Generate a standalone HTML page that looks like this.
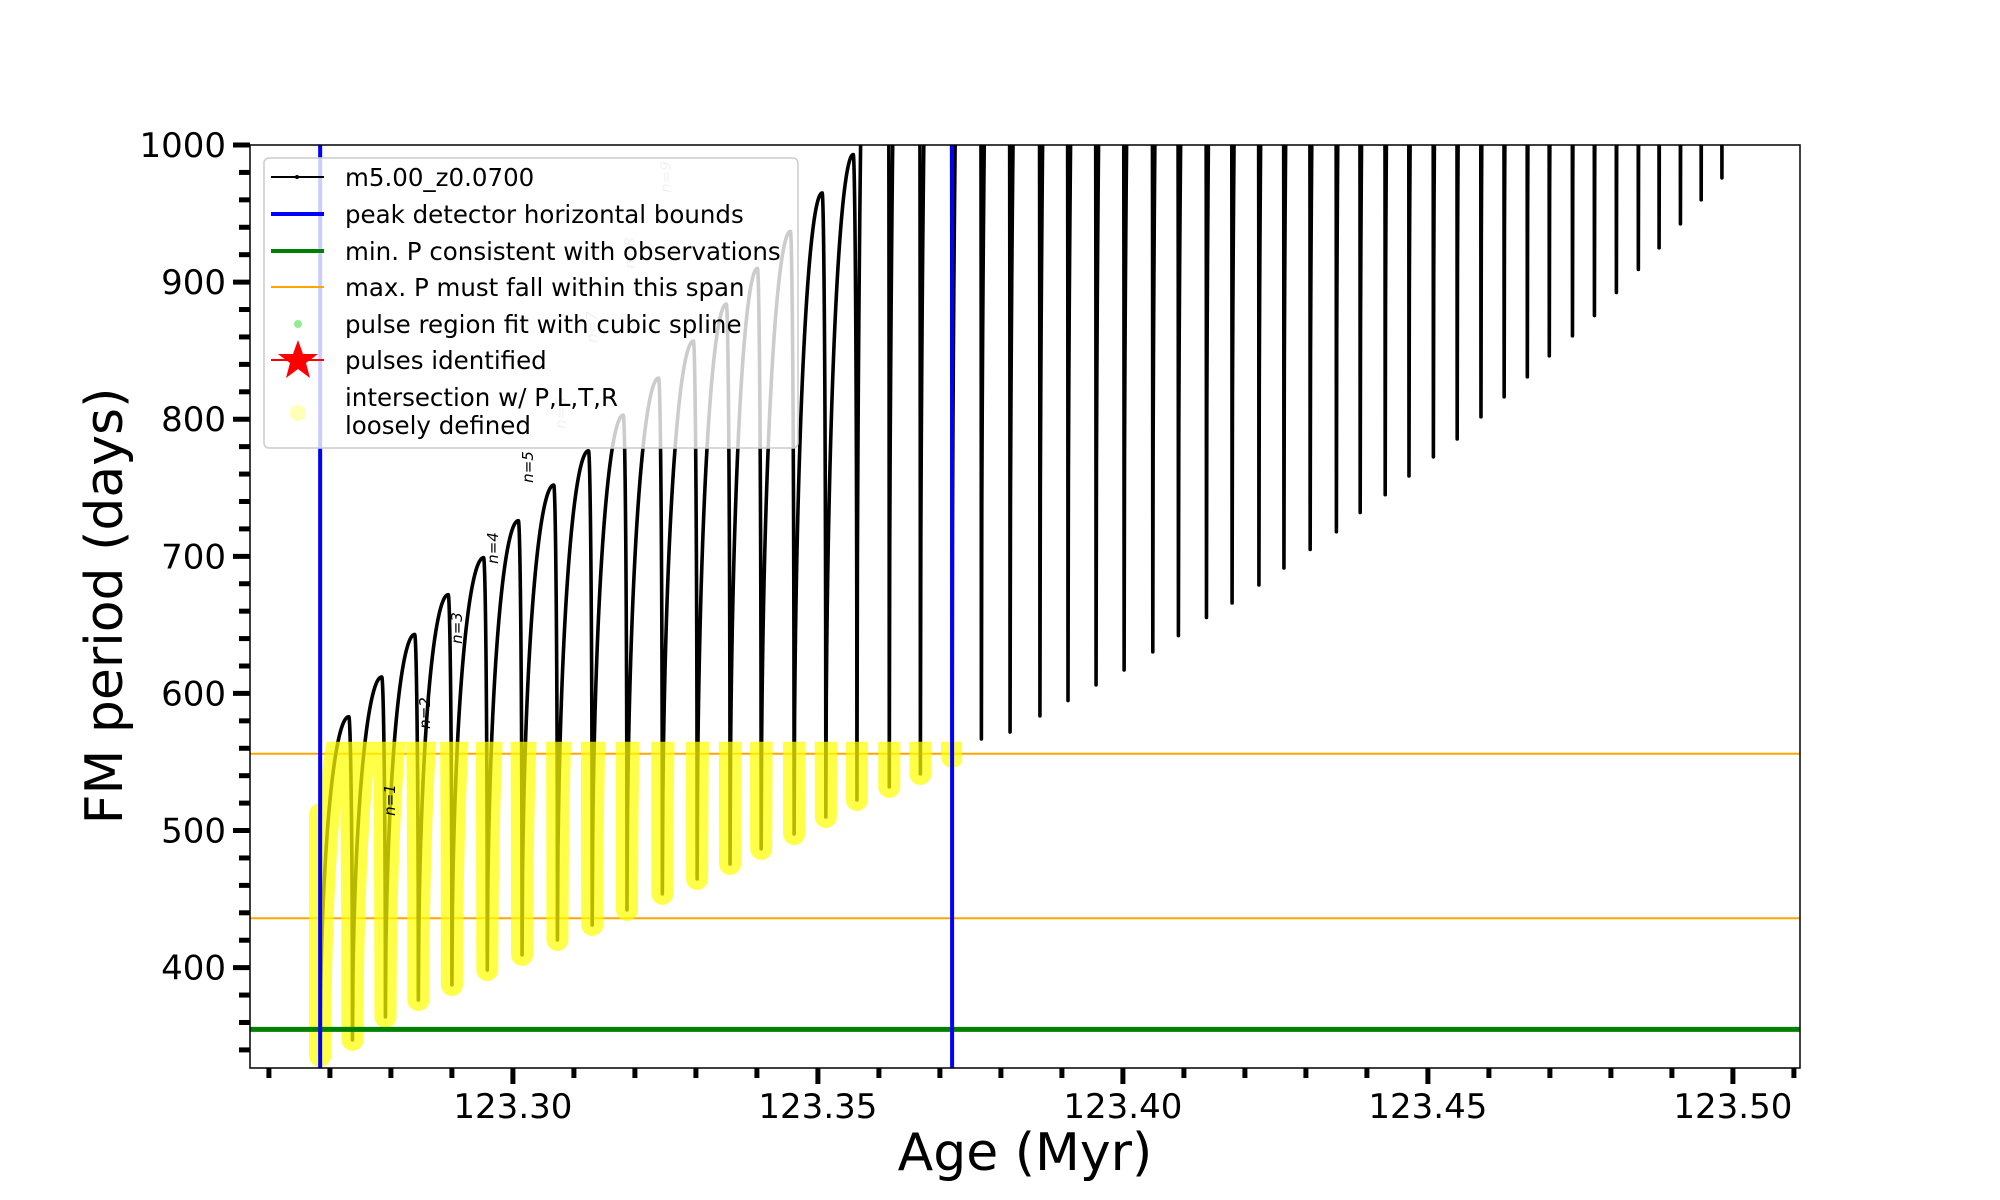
<!DOCTYPE html>
<html><head><meta charset="utf-8"><style>
html,body{margin:0;padding:0;background:#fff;}
svg{display:block;font-family:"DejaVu Sans","Liberation Sans",sans-serif;}
</style></head><body>
<svg id="chart" width="2000" height="1200" viewBox="0 0 2000 1200" xmlns="http://www.w3.org/2000/svg">
<defs><clipPath id="plotClip"><rect x="250" y="145" width="1550" height="923"/></clipPath>
<clipPath id="yelClip"><rect x="300" y="742" width="668" height="330"/></clipPath></defs>
<rect x="0" y="0" width="2000" height="1200" fill="#fff"/>
<g id="plot" clip-path="url(#plotClip)"></g>
<g id="axes"></g>
<g id="legend">
<rect x="264" y="158" width="534" height="290" rx="5" fill="#fff" fill-opacity="0.8" stroke="#ccc" stroke-width="1.5"/>
<g font-size="24.5" fill="#000">
<g><line x1="271" y1="177" x2="324" y2="177" stroke="#000" stroke-width="2"/><circle cx="297" cy="177" r="2" fill="#000"/><text x="345" y="186">m5.00_z0.0700</text></g>
<g><line x1="271" y1="214" x2="324" y2="214" stroke="#0000ff" stroke-width="4"/><text x="345" y="223">peak detector horizontal bounds</text></g>
<g><line x1="271" y1="251" x2="324" y2="251" stroke="#008000" stroke-width="4"/><text x="345" y="260">min. P consistent with observations</text></g>
<g><line x1="271" y1="287" x2="324" y2="287" stroke="#ffa500" stroke-width="2"/><text x="345" y="296">max. P must fall within this span</text></g>
<g><circle cx="298" cy="324" r="4" fill="#90ee90"/><text x="345" y="333">pulse region fit with cubic spline</text></g>
<g><line x1="271" y1="360" x2="324" y2="360" stroke="#ff0000" stroke-width="2"/><polygon points="298,340 303,354 318,354 306,363 310,378 298,369 286,378 290,363 278,354 293,354" fill="#ff0000"/><text x="345" y="369">pulses identified</text></g>
<g><circle cx="298" cy="413" r="8" fill="#ffff99" fill-opacity="0.7"/><text x="345" y="406">intersection w/ P,L,T,R</text><text x="345" y="434">loosely defined</text></g>
</g></g>
</svg>
<script>
const pulseAge=[123.2684,123.2737,123.2791,123.2845,123.2900,123.2958,123.3015,123.3073,123.3130,123.3187,123.3245,123.3302,123.3356,123.3407,123.3461,123.3513,123.3564,123.3617,123.3668,123.3720,123.3768,123.3815,123.3864,123.3910,123.3956,123.4002,123.4049,123.4091,123.4137,123.4179,123.4223,123.4264,123.4307,123.4350,123.4389,123.4430,123.4469,123.4509,123.4548,123.4587,123.4625,123.4663,123.4699,123.4737,123.4773,123.4809,123.4845,123.4879,123.4914,123.4948,123.4982];
const pulseMin=[335.6,347.3,364,376.4,387.4,398.3,409.3,420.2,431.1,442.1,453.8,464.7,475.6,486.6,497.5,509.9,522.3,531.8,541.3,553.7,566.8,571.9,583.6,594.8,606.2,617.1,630.3,642.2,655.4,666,679.1,691.5,705,717.9,732,744.9,758.6,772.5,785.6,801.7,816.3,830.9,846.2,860.8,875.6,892.4,909.2,925,942.5,960,976];
const pulsePeak=[512,583,612,643,672,699,726,752,777,803,830,857,884,910,937,965,993,1500,1500,1500,1500,1500,1500,1500,1500,1500,1500,1500,1500,1500,1500,1500,1500,1500,1500,1500,1500,1500,1500,1500,1500,1500,1500,1500,1500,1500,1500,1500,1500,1500,1500];
const yMajorTicks=[400,500,600,700,800,900,1000];
const xMajorTicks=[123.30,123.35,123.40,123.45,123.50];
const xTickLabels=["123.30","123.35","123.40","123.45","123.50"];
const peakBounds=[123.2684,123.3720];
const minP=355;
const maxPSpan=[436,556];
const nLabels=["n=1","n=2","n=3","n=4","n=5","n=6","n=7","n=8","n=9"];

const X0=250,X1=1800,Y0=145,Y1=1068,AMIN=123.2569,AMAX=123.5110,PMIN=326.8,PMAX=1000;
function X(a){return X0+(a-AMIN)/(AMAX-AMIN)*(X1-X0);}
function Y(v){return Y1-(v-PMIN)/(PMAX-PMIN)*(Y1-Y0);}
const NS="http://www.w3.org/2000/svg";
function mk(t,attrs,parent){const e=document.createElementNS(NS,t);for(const k in attrs)e.setAttribute(k,attrs[k]);parent.appendChild(e);return e;}
const plot=document.getElementById('plot'),axes=document.getElementById('axes');

let pts=[];
const w=0.0006;
pts.push([pulseAge[0],pulsePeak[0]]);
pts.push([pulseAge[0],pulseMin[0]]);
for(let i=1;i<pulseAge.length;i++){
  const ts=pulseAge[i-1],te=pulseAge[i],tp=te-w,m0=pulseMin[i-1],p=pulsePeak[i],m1=pulseMin[i];
  const N=60;
  for(let k=1;k<=N;k++){const u=k/N;const t=ts+(tp-ts)*u;const v=m0+(p-m0)*Math.sqrt(Math.max(0,1-(1-u)*(1-u)));pts.push([t,v]);}
  for(let k=1;k<=20;k++){const u=k/20;const t=tp+w*u;const v=m1+(p-m1)*Math.sqrt(Math.max(0,1-u*u));pts.push([t,v]);}
}
{const last=pulseAge.length-1;for(let k=1;k<=20;k++){const u=k/20;pts.push([pulseAge[last]+0.0006*u,pulseMin[last]+(1500-pulseMin[last])*Math.sqrt(1-(1-u)*(1-u))]);}}
const d=pts.map((q,i)=>(i?'L':'M')+X(q[0]).toFixed(2)+' '+Y(Math.min(q[1],1100)).toFixed(2)).join(' ');

const hl=(v,col,wd,name)=>{const e=mk('line',{x1:X0,x2:X1,y1:Y(v),y2:Y(v),stroke:col,'stroke-width':wd},plot);

};
hl(maxPSpan[0],'#ffa500',2,'max-p-lower-line');
hl(maxPSpan[1],'#ffa500',2,'max-p-upper-line');

const curve=mk('path',{d:d,fill:'none',stroke:'#000','stroke-width':3.6,'stroke-linejoin':'round'},plot);



const yc=document.createElementNS(NS,'g');yc.setAttribute('clip-path','url(#yelClip)');plot.appendChild(yc);


const yClip=document.getElementById('yelClip').firstElementChild;
yClip.setAttribute('x',X(peakBounds[0])-20);yClip.setAttribute('width',X(peakBounds[1])-X(peakBounds[0])+30);
yClip.setAttribute('y',Y(maxPSpan[1])-12);yClip.setAttribute('height',Y1-Y(maxPSpan[1])+12);
mk('path',{d:d,fill:'none',stroke:'#ffff00','stroke-width':22,'stroke-opacity':0.72,'stroke-linecap':'round','stroke-linejoin':'round'},yc);

hl(minP,'#008000',5,'min-p-line');
peakBounds.forEach((a,i)=>{const e=mk('line',{x1:X(a),x2:X(a),y1:Y0,y2:Y1,stroke:'#0000ff','stroke-width':4},plot);

});

const nPos=[[395,800,'#000'],[430,713,'#000'],[462,628,'#000'],[498,548,'#000'],[533,467,'#000'],[566,413,'#bbb'],[597,327,'#bbb'],[635,253,'#bbb'],[671,177,'#bbb']];
nLabels.forEach((s,i)=>{const t=mk('text',{x:nPos[i][0],y:nPos[i][1],'font-size':15,'font-style':'italic',fill:nPos[i][2],'text-anchor':'middle',transform:`rotate(-90 ${nPos[i][0]} ${nPos[i][1]})`},plot);t.textContent=s;

});

const fr=mk('rect',{x:X0,y:Y0,width:X1-X0,height:Y1-Y0,fill:'none',stroke:'#000','stroke-width':1.5},axes);


for(let v=340;v<=1000;v+=20){const maj=yMajorTicks.includes(v);const e=mk('line',{x1:X0-(maj?17:11),x2:X0,y1:Y(v),y2:Y(v),stroke:'#000','stroke-width':5},axes);

}
yMajorTicks.forEach(v=>{const t=mk('text',{x:226,y:Y(v)+12,'font-size':34,'text-anchor':'end'},axes);t.textContent=v;

});
for(let k=0;k<=25;k++){const a=123.26+k*0.01;if(X(a)>X1+1)break;const maj=xMajorTicks.some(m=>Math.abs(m-a)<1e-6);const e=mk('line',{x1:X(a),x2:X(a),y1:Y1,y2:Y1+(maj?16:10),stroke:'#000','stroke-width':5},axes);

}
xMajorTicks.forEach((a,i)=>{const t=mk('text',{x:X(a),y:1118,'font-size':34,'text-anchor':'middle'},axes);t.textContent=xTickLabels[i];

});
const xt=mk('text',{x:1025,y:1170,'font-size':52,'text-anchor':'middle'},axes);xt.textContent='Age (Myr)';


const yt=mk('text',{x:122,y:606,'font-size':52,'text-anchor':'middle',transform:'rotate(-90 122 606)'},axes);yt.textContent='FM period (days)';


document.getElementById('chart').appendChild(document.getElementById('legend'));
</script>
</body></html>
